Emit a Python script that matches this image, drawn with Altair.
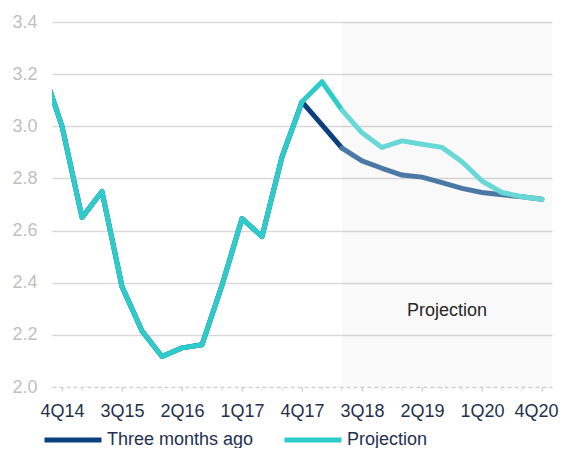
import altair as alt
import pandas as pd

# Quarter labels (3Q14 is off the left edge of the axis and is clipped)
quarters = ["3Q14", "4Q14",
            "1Q15", "2Q15", "3Q15", "4Q15",
            "1Q16", "2Q16", "3Q16", "4Q16",
            "1Q17", "2Q17", "3Q17", "4Q17",
            "1Q18", "2Q18", "3Q18", "4Q18",
            "1Q19", "2Q19", "3Q19", "4Q19",
            "1Q20", "2Q20", "3Q20", "4Q20"]
positions = list(range(-1, 25))

projection = [3.23, 3.00, 2.65, 2.75, 2.385, 2.215, 2.117, 2.15, 2.162, 2.39,
              2.646, 2.577, 2.883, 3.094, 3.171, 3.062, 2.975, 2.919, 2.944,
              2.931, 2.919, 2.864, 2.79, 2.746, 2.73, 2.72]
three_months_ago = [3.23, 3.00, 2.65, 2.75, 2.385, 2.215, 2.117, 2.15, 2.162, 2.39,
                    2.646, 2.577, 2.883, 3.094, 3.005, 2.916, 2.867, 2.839, 2.813,
                    2.805, 2.784, 2.762, 2.746, 2.737, 2.73, 2.72]

projection_start = 14      # 2Q18
x_domain = [-0.5, 24.5]
y_domain = [2.0, 3.4]
y_ticks = [2.0, 2.2, 2.4, 2.6, 2.8, 3.0, 3.2, 3.4]
x_label_positions = [0, 3, 6, 9, 12, 15, 18, 21, 24]
minor_tick_positions = list(range(0, 25))
annotation = ["Projection"]
annotation_x = [19.25]
annotation_y = [2.293]

series_names = ["Three months ago", "Projection"]
keys = ["Three months ago", "Projection", "tm_proj", "p_proj"]
key_colors = ["#0c3f7e", "#2ecbcb", "#4b79a5", "#67d8d6"]

FONT = "Arial"


def rows(name, values, hist_key, proj_key):
    out = []
    for p, v, q in zip(positions, values, quarters):
        if p <= projection_start:
            out.append({"idx": p, "value": v, "quarter": q, "key": hist_key, "series": name})
        if p >= projection_start:
            out.append({"idx": p, "value": v, "quarter": q, "key": proj_key, "series": name})
    return out


dark_df = pd.DataFrame(rows("Three months ago", three_months_ago, "Three months ago", "tm_proj"))
teal_df = pd.DataFrame(rows("Projection", projection, "Projection", "p_proj"))
shade_df = pd.DataFrame({"x": [projection_start], "x2": [x_domain[1]],
                         "y": [y_domain[0]], "y2": [y_domain[1]]})
text_df = pd.DataFrame({"x": annotation_x, "y": annotation_y, "t": annotation})
tick_df = pd.DataFrame({"x": minor_tick_positions, "y": [y_domain[0]] * len(minor_tick_positions)})

label_lookup = {p: q for p, q in zip(positions, quarters)}
label_expr = " : ".join(
    f"datum.value == {p} ? '{label_lookup[p]}'" for p in x_label_positions
) + " : ''"

x_axis = alt.Axis(
    values=x_label_positions,
    labelExpr=label_expr,
    labelFlush=False,
    labelOffset={"condition": {"test": f"datum.value == {x_label_positions[-1]}", "value": -6},
                 "value": 0},
    labelFont=FONT, labelFontSize=18, labelColor="#1f3050",
    labelPadding=11,
    grid=False,
    domainColor="#d0d0d0", domainDash=[4, 3], domainWidth=1.5,
    ticks=True, tickColor="#d0d0d0", tickSize=4, tickWidth=1,
    title=None, zindex=1,
)
y_axis = alt.Axis(
    values=y_ticks, format=".1f",
    labelFont=FONT, labelFontSize=18, labelColor="#bfbfbf", labelPadding=15,
    domain=False, ticks=False, tickSize=0,
    grid=True, gridColor="#d9d9d9", gridWidth=1.5,
    gridOpacity={"condition": {"test": "datum.value < 2.05", "value": 0}, "value": 1},
    title=None,
)

x_scale = alt.Scale(domain=x_domain, nice=False, zero=False)
y_scale = alt.Scale(domain=y_domain, nice=False, zero=False)

color = alt.Color(
    "key:N",
    scale=alt.Scale(domain=keys, range=key_colors),
    legend=alt.Legend(
        values=series_names, title=None, orient="none", direction="horizontal",
        legendX=-10, legendY=387,
        symbolType="stroke", symbolSize=3249, symbolStrokeWidth=5,
        labelFont=FONT, labelFontSize=18, labelColor="#1f3050",
        labelOffset=3, columnPadding=20, labelLimit=300,
    ),
)

shade = alt.Chart(shade_df).mark_rect(color="#000000", opacity=0.022).encode(
    x=alt.X("x:Q", scale=x_scale, axis=x_axis),
    x2="x2:Q",
    y=alt.Y("y:Q", scale=y_scale, axis=y_axis),
    y2="y2:Q",
)

minor_ticks = alt.Chart(tick_df).mark_tick(
    orient="vertical", size=4, thickness=1, color="#d0d0d0", yOffset=2
).encode(
    x=alt.X("x:Q", scale=x_scale),
    y=alt.Y("y:Q", scale=y_scale),
)

line_kw = dict(strokeWidth=5, clip=True, strokeCap="round", strokeJoin="round")

dark = alt.Chart(dark_df).mark_line(**line_kw).encode(
    x=alt.X("idx:Q", scale=x_scale),
    y=alt.Y("value:Q", scale=y_scale),
    color=color,
    detail="key:N",
    order="idx:Q",
)
teal = alt.Chart(teal_df).mark_line(**line_kw).encode(
    x=alt.X("idx:Q", scale=x_scale),
    y=alt.Y("value:Q", scale=y_scale),
    color=color,
    detail="key:N",
    order="idx:Q",
)
label = alt.Chart(text_df).mark_text(
    font=FONT, fontSize=18, color="#262626", align="center", baseline="middle"
).encode(
    x=alt.X("x:Q", scale=x_scale),
    y=alt.Y("y:Q", scale=y_scale),
    text="t:N",
)

chart = alt.layer(shade, minor_ticks, dark, teal, label).properties(
    width=500, height=365,
    autosize=alt.AutoSizeParams(type="none"),
    padding={"left": 44, "top": 14, "right": 8, "bottom": 61},
    background="white",
).configure_view(stroke=None)

chart.save("out.html", embed_options={"renderer": "svg", "actions": False})
